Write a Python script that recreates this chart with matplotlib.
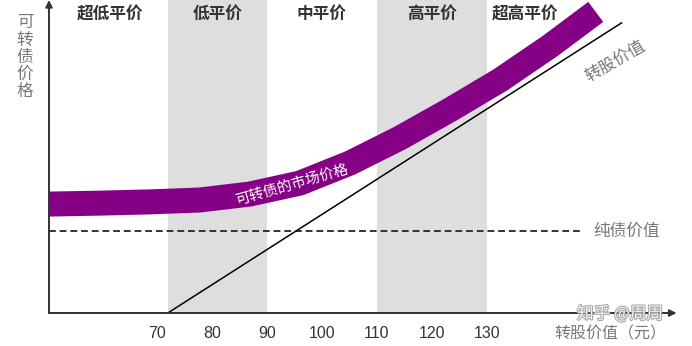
import numpy as np
import matplotlib.pyplot as plt
import matplotlib.patheffects as pe

plt.rcParams['font.family'] = ['Noto Sans CJK SC', 'DejaVu Sans']

# 平价区间
zones = ['超低平价', '低平价', '中平价', '高平价', '超高平价']
zone_x = [61.5, 81, 100, 120, 137]
shade_spans = [(72, 90), (110, 130)]

# 可转债市场价格（中心线）
market_x = [50.4, 59.6, 68.7, 77.8, 86.9, 96.0, 105.1, 114.2, 123.3, 132.4, 141.5, 149.8]
market_y = [34.8, 35.1, 35.5, 36.1, 38.0, 41.5, 47.9, 55.9, 64.9, 74.4, 85.3, 96.2]

# 转股价值
conv_x = [72, 154.5]
conv_y = [0, 92.7]

# 纯债价值
bond_value = 26.2
bond_x = [50.4, 147.3]

ticks = [70, 80, 90, 100, 110, 120, 130]

fig = plt.figure(figsize=(6.92, 3.46), dpi=100)
ax = fig.add_axes([49 / 692, 33 / 346, 643 / 692, 313 / 346])
ax.set_xlim(50.4, 167.3)
ax.set_ylim(0, 100)

for a, b in shade_spans:
    ax.axvspan(a, b, color='#dedede', lw=0, zorder=0)

ax.plot(bond_x, [bond_value, bond_value], color='#333333', lw=1.4,
        dashes=(3.5, 2), zorder=2)
ax.plot(conv_x, conv_y, color='black', lw=1.1, zorder=2)
ax.plot(market_x, market_y, color='#850085', lw=18, solid_capstyle='butt',
        solid_joinstyle='round', zorder=3)

for name, x in zip(zones, zone_x):
    ax.text(x, 95.5, name, ha='center', va='center', fontsize=12,
            fontweight='bold', color='#333333')

ax.text(94.5, 40.8, '可转债的市场价格', color='white', fontsize=10.5,
        rotation=16, ha='center', va='center', zorder=4)
ax.text(149.3, bond_value, '纯债价值', color='#777777', fontsize=12,
        ha='left', va='center')
ax.text(153.3, 80.5, '转股价值', color='#777777', fontsize=12,
        rotation=30, ha='center', va='center')

# 坐标轴
for s in ax.spines.values():
    s.set_visible(False)
ax.set_xticks(ticks)
ax.set_xticklabels([str(t) for t in ticks], fontsize=11.5, color='#333333',
                   family='Liberation Sans')
ax.set_yticks([])
ax.tick_params(axis='x', length=0, pad=9)
ax.annotate('', xy=(164.5, 0), xytext=(50.4, 0),
            arrowprops=dict(arrowstyle='-|>', color='#333333', lw=1.4,
                            mutation_scale=10, shrinkA=0, shrinkB=0),
            annotation_clip=False)
ax.annotate('', xy=(50.4, 100), xytext=(50.4, 0),
            arrowprops=dict(arrowstyle='-|>', color='#333333', lw=1.4,
                            mutation_scale=10, shrinkA=0, shrinkB=0),
            annotation_clip=False)

ax.text(152.4, -0.066, '转股价值（元）', transform=ax.get_xaxis_transform(),
        ha='center', va='center', fontsize=11.5, color='#777777')
fig.text(25 / 692, 1 - 57 / 346, '可\n转\n债\n价\n格', ha='center', va='center',
         fontsize=12, color='#777777', linespacing=1.0)

# 水印
fig.text(620 / 692, 1 - 314 / 346, '知乎 @周周', ha='center', va='center',
         fontsize=12, color='white', alpha=0.85,
         path_effects=[pe.withStroke(linewidth=1.5, foreground='#999999')])

fig.savefig('out.png', dpi=100)
